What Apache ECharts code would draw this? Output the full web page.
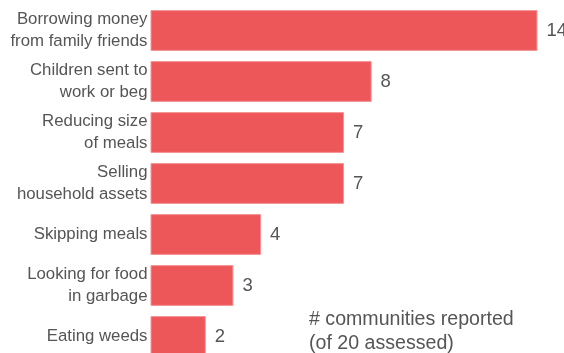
<!DOCTYPE html>
<html><head><meta charset="utf-8">
<script src="https://cdn.jsdelivr.net/npm/echarts@6/dist/echarts.min.js"></script>
<style>html,body{margin:0;padding:0;background:#fff}#c{width:564px;height:353px}</style>
</head><body><div id="c"></div>
<script>
const categories = ["Borrowing money\nfrom family friends","Children sent to\nwork or beg","Reducing size\nof meals","Selling\nhousehold assets","Skipping meals","Looking for food\nin garbage","Eating weeds"];
const values = [14, 8, 7, 7, 4, 3, 2];
const note = "# communities reported\n(of 20 assessed)";

const chart = echarts.init(document.getElementById('c'), null, {renderer:'canvas'});
chart.setOption({
  animation:false,
  grid:{left:150.5, top:5, width:414.6, height:357, containLabel:false, outerBoundsMode:'none'},
  xAxis:{type:'value', min:0, max:15, show:false},
  yAxis:{type:'category', data:categories, inverse:true,
    axisLine:{show:false}, axisTick:{show:false},
    axisLabel:{fontFamily:'Liberation Sans', fontSize:16.8, color:'#555', lineHeight:22, margin:3, align:'right'}},
  series:[{type:'bar', data:values, barCategoryGap:'20%',
    itemStyle:{color:'#EE575A', borderColor:'#F59393', borderWidth:1},
    label:{show:true, position:'right', distance:9, fontFamily:'Liberation Sans', fontSize:18.5, color:'#555'}}],
  graphic:[{type:'text', left:309, top:308, style:{text:note, font:'19.6px "Liberation Sans"', fill:'#555', lineHeight:24}}]
});
</script></body></html>
